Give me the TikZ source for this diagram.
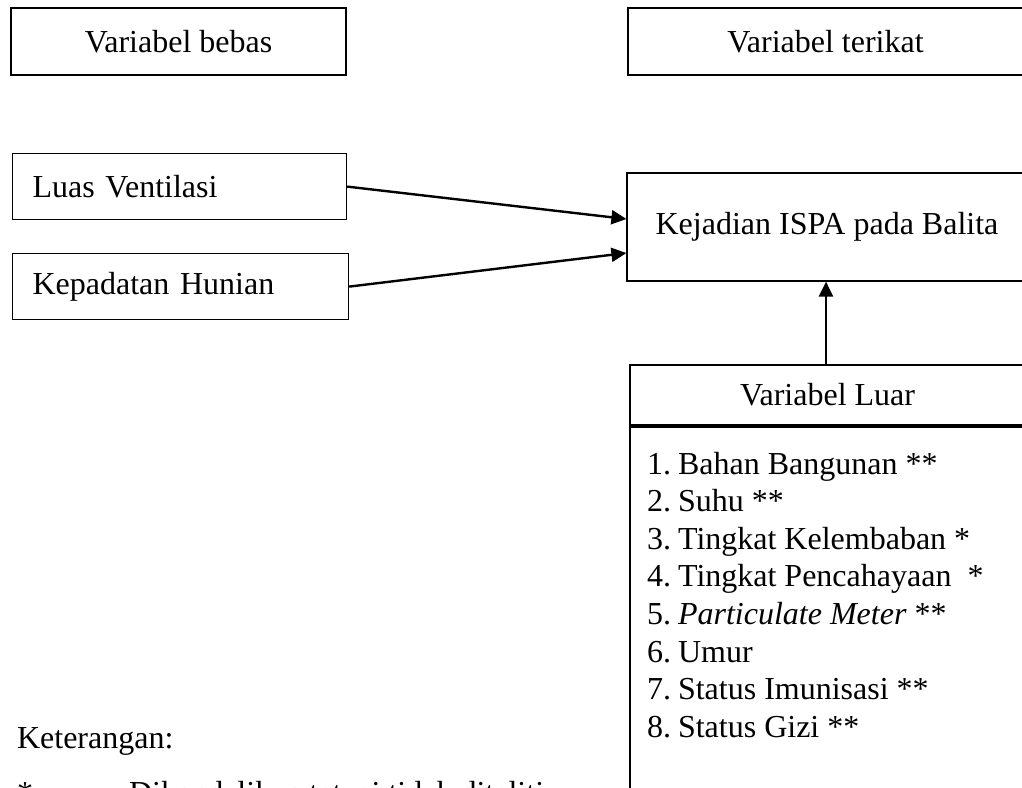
\documentclass[tikz,border=0pt]{standalone}
\usepackage{fontspec}
\setmainfont{Liberation Serif}
\usetikzlibrary{
        arrows.meta,
        positioning
    }
\tikzset{>={Triangle[length=7.5pt,width=7pt]},font=\fontsize{16}{19}\selectfont}
\tikzset{kotak/.style={draw,rectangle,line width=0.6pt,inner sep=0pt}}
\tikzset{panah/.style={->,line width=1.2pt}}

\begin{document}
\begin{tikzpicture}[x=0.5pt,y=-0.5pt]
                        \useasboundingbox (0,0) rectangle (1022,787);
                        \clip (0,0) rectangle (1022,787);
                        \node[kotak,minimum width=167.5pt,minimum height=33.5pt] (bebas) at (178.5,41.5) {Variabel bebas};
                        \node[kotak,minimum width=197.5pt,minimum height=33.5pt] (terikat) at (825.5,41.5) {Variabel terikat};
                        \node[kotak,anchor=north west,text width=147pt,inner xsep=10pt,minimum height=33pt,align=left] (luas) at (12,153) {Luas Ventilasi};
                        \node[kotak,anchor=north west,text width=148pt,inner xsep=10pt,minimum height=33pt,align=left] (padat) at (12,253) {Kepadatan Hunian};
                        \node[kotak,minimum width=200pt,minimum height=54pt] (ispa) at (827,227) {Kejadian ISPA pada Balita};
                        \node[kotak,minimum width=197.5pt,minimum height=30pt] (luar) at (827.5,395) {Variabel Luar};
                        \node[kotak,minimum width=200pt,minimum height=186.5pt] (daftar) at (830,613.5) {};
                        \path[panah]
                            (luas.east)  edge  ([yshift=4pt]ispa.west)
                            (padat.east)  edge  ([yshift=-13pt]ispa.west)
                            ([xshift=-0.75pt]luar.north)  edge  ([xshift=-0.75pt]luar.north |- ispa.south)
                        ;
                        \foreach \teks [count=\i] in {Bahan Bangunan **, Suhu **, Tingkat Kelembaban *, Tingkat Pencahayaan\ \ *, \textit{Particulate Meter} **, Umur, Status Imunisasi **, Status Gizi **}
                            \node[anchor=base west] (item\i) at (640,{474+37.6*(\i-1)}) {\makebox[15.5pt][l]{\i.}\teks};
                        \node[anchor=base west] (ket) at (10,748) {Keterangan:};
                        \node[anchor=base west] (bintang) at (10,803) {*};
                        \node[anchor=base west] (ketsatu) at (122,803) {Dikendalikan tetapi tidak diteliti};
                    \end{tikzpicture}
\end{document}
